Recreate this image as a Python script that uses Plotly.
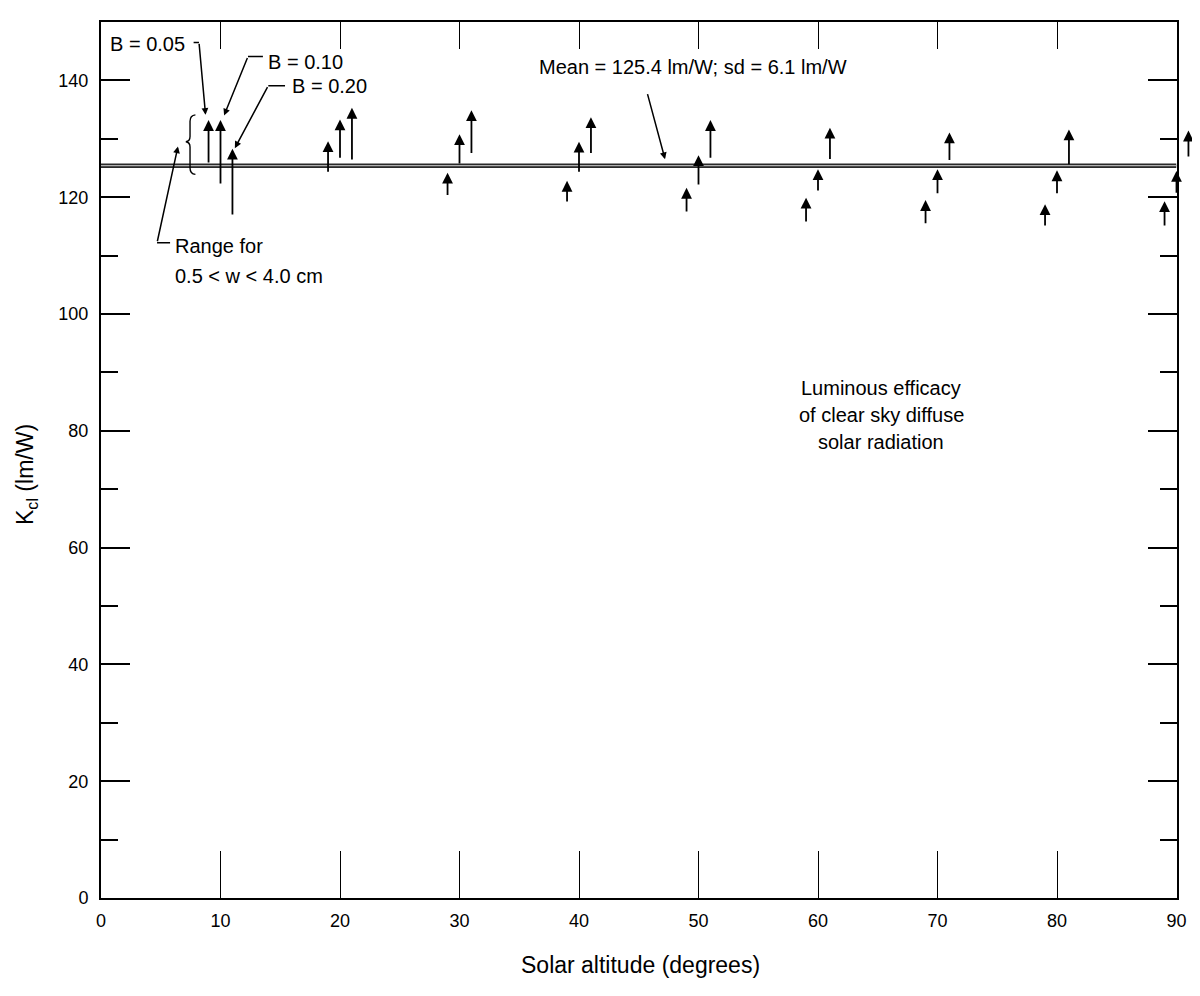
import plotly.graph_objects as go

# ---------------- data ----------------
altitude = [9, 10, 11, 19, 20, 21, 29, 30, 31, 39, 40, 41, 49, 50, 51,
            59, 60, 61, 69, 70, 71, 79, 80, 81, 89, 90, 91]
k_tail = [125.7, 122.1, 116.8, 124.1, 126.5, 126.2, 120.1, 125.5, 127.3,
          119.0, 124.1, 127.3, 117.3, 121.9, 126.5, 115.6, 120.9, 126.3,
          115.3, 120.4, 126.1, 114.9, 120.4, 125.4, 114.9, 120.5, 126.7]
k_head = [133.2, 133.2, 128.3, 129.6, 133.3, 135.3, 124.2, 130.8, 134.9,
          122.8, 129.5, 133.7, 121.6, 127.2, 133.2, 119.9, 124.8, 131.9,
          119.5, 124.8, 131.1, 118.8, 124.6, 131.6, 119.3, 124.5, 131.4]
mean_k = 125.4
x_ticks = [0, 10, 20, 30, 40, 50, 60, 70, 80, 90]
y_ticks = [0, 20, 40, 60, 80, 100, 120, 140]
x_label = "Solar altitude (degrees)"
y_label = "K<sub>cl</sub> (lm/W)"
mean_text = "Mean = 125.4 lm/W; sd = 6.1 lm/W"
note_lines = ["Luminous efficacy", "of clear sky diffuse", "solar radiation"]

# ---------------- layout geometry ----------------
OFF = 8                      # page body margin of the browser
W, H = 1200 - OFF, 996 - OFF
ML, MR, MT = 101 - OFF, 4, 22 - OFF
PH = 876
MB = H - MT - PH
plot_w = W - ML - MR
frame_w = 1075.5
d = frame_w / plot_w
x_max = 90
FONT = "Liberation Sans, Arial, sans-serif"
TXT = 20

def px_x(sx):   # screen x -> paper fraction
    return (sx - OFF - ML) / plot_w

def px_y(sy):   # screen y -> paper fraction
    return (MT + PH - (sy - OFF)) / PH

fig = go.Figure()

# mean line (double-line look)
fig.add_trace(go.Scatter(x=[0, x_max], y=[mean_k, mean_k], mode="lines",
                         line=dict(color="#2a2a2a", width=4.5),
                         hoverinfo="skip", showlegend=False))
fig.add_trace(go.Scatter(x=[0, x_max], y=[mean_k, mean_k], mode="lines",
                         line=dict(color="#b0b0b0", width=1.3),
                         hoverinfo="skip", showlegend=False))
fig.add_trace(go.Scatter(x=[], y=[], xaxis="x2", yaxis="y", showlegend=False))
fig.add_trace(go.Scatter(x=[], y=[], xaxis="x3", yaxis="y", showlegend=False))

annotations = []
# data arrows
for xa, kt, kh in zip(altitude, k_tail, k_head):
    annotations.append(dict(x=xa, y=kh, ax=xa, ay=kt, xref="x2", yref="y",
                            axref="x2", ayref="y", text="", showarrow=True,
                            arrowhead=2, arrowsize=1.2, arrowwidth=1.8,
                            arrowcolor="black", standoff=0))

def label(txt, x, y, anchor="left", size=TXT):
    annotations.append(dict(x=x, y=y, xref="x", yref="y", text=txt,
                            showarrow=False, xanchor=anchor, yanchor="middle",
                            font=dict(family=FONT, size=size, color="black")))

def leader(x0, y0, x1, y1, head=2, size=0.9):
    annotations.append(dict(x=x1, y=y1, ax=x0, ay=y0, xref="x", yref="y",
                            axref="x", ayref="y", text="", showarrow=True,
                            arrowhead=head, arrowsize=size, arrowwidth=1.5,
                            arrowcolor="black", standoff=0))

shapes = []
def seg(x0, y0, x1, y1):
    shapes.append(dict(type="line", xref="x", yref="y", x0=x0, y0=y0,
                       x1=x1, y1=y1, line=dict(color="black", width=1.5)))

# B labels
label("B = 0.05", 0.55, 146.2)
seg(7.75, 146.5, 8.2, 146.5)
leader(8.2, 146.5, 8.75, 134.1)

label("B = 0.10", 13.8, 143.2)
seg(13.55, 144.1, 12.3, 144.1)
leader(12.3, 144.1, 10.3, 134.0)

label("B = 0.20", 15.8, 139.0)
seg(15.4, 139.1, 14.0, 139.1)
leader(14.0, 139.1, 11.2, 128.4)

# range bracket + label
shapes.append(dict(type="path", xref="x", yref="y",
                   path="M 7.9,134.1 Q 7.45,134.0 7.45,133.0 L 7.45,130.4 "
                        "Q 7.45,129.6 7.1,129.5 Q 7.45,129.4 7.45,128.6 "
                        "L 7.45,125.0 Q 7.45,124.0 7.9,123.9",
                   line=dict(color="black", width=1.4)))
seg(4.69, 112.2, 5.78, 112.2)
leader(4.69, 112.2, 6.44, 128.7)
label("Range for", 6.0, 111.6)
label("0.5 &lt; w &lt; 4.0 cm", 6.0, 106.5)

# mean label
label(mean_text, 49.5, 142.3, anchor="center")
leader(45.7, 137.9, 47.2, 126.5)

# note
for i, t in enumerate(note_lines):
    label(t, 65.3, 87.3 - 4.6 * i, anchor="center")

# axis titles
annotations.append(dict(x=px_x(640), y=px_y(965), xref="paper", yref="paper",
                        text=x_label, showarrow=False,
                        xanchor="center", yanchor="middle",
                        font=dict(family=FONT, size=23, color="black")))
annotations.append(dict(x=px_x(27), y=px_y(475), xref="paper", yref="paper",
                        text=y_label, showarrow=False, textangle=-90,
                        xanchor="center", yanchor="middle",
                        font=dict(family=FONT, size=23, color="black")))

fig.update_layout(
    width=W, height=H,
    margin=dict(l=ML, r=MR, t=MT, b=MB),
    paper_bgcolor="white", plot_bgcolor="rgba(0,0,0,0)",
    showlegend=False,
    font=dict(family=FONT, size=17, color="black"),
    xaxis=dict(domain=[0, d], range=[0, x_max], tickvals=x_ticks,
               ticks="inside", ticklen=47, tickwidth=1.3, tickcolor="black",
               showline=True, linecolor="black", linewidth=2, mirror=True,
               showgrid=False, zeroline=False, ticklabelstandoff=5,
               automargin=False,
               tickfont=dict(family=FONT, size=18, color="black")),
    xaxis3=dict(overlaying="x", side="top", anchor="y", range=[0, x_max],
                tickvals=x_ticks[1:-1], ticks="inside", ticklen=27,
                tickwidth=1.3, tickcolor="black", showticklabels=False,
                showline=False, showgrid=False, zeroline=False,
                automargin=False),
    xaxis2=dict(domain=[0, 1], range=[0, x_max / d], anchor="y",
                visible=False, showgrid=False, zeroline=False,
                automargin=False),
    yaxis=dict(domain=[0, 1], range=[0, 150], tickvals=y_ticks, anchor="x",
               ticks="inside", ticklen=29, tickwidth=1.5, tickcolor="black",
               minor=dict(dtick=10, tick0=0, ticks="inside", ticklen=17,
                          tickwidth=1.5, tickcolor="black", showgrid=False),
               showline=True, linecolor="black", linewidth=2, mirror="ticks",
               showgrid=False, zeroline=False, ticklabelstandoff=7,
               automargin=False,
               tickfont=dict(family=FONT, size=18, color="black")),
    annotations=annotations,
    shapes=shapes,
)

fig.write_html("out.html")
